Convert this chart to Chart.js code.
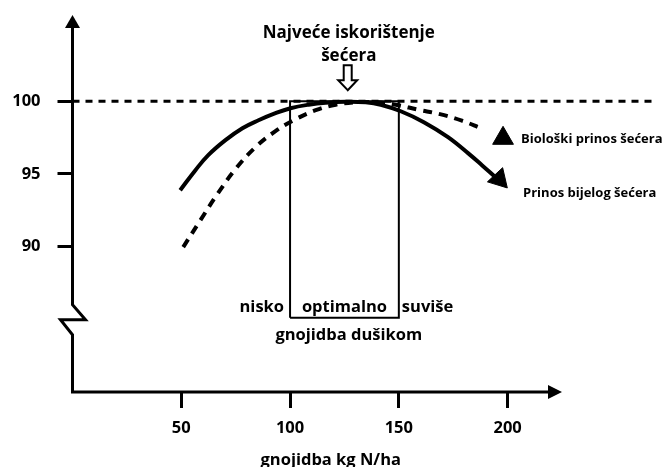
<!DOCTYPE html>
<html>
<head>
<meta charset="utf-8">
<script src="https://cdn.jsdelivr.net/npm/chart.js@4/dist/chart.umd.min.js"></script>
<style>
  html, body { margin: 0; padding: 0; background: #fff; }
  #wrap { width: 663px; height: 467px; }
</style>
</head>
<body>
<div id="wrap"><canvas id="chart" width="663" height="467"></canvas></div>
<script>
// N rate (kg N/ha) against relative sugar yield (%)
const xTicks = [50, 100, 150, 200];
const yTicks = [90, 95, 100];

// Prinos bijelog šećera (solid line, arrow at the end)
const whiteX = [49.5, 56.5, 62.4, 70.3, 78.1, 85.5, 93.3, 100.2, 108.5, 116.4, 125.6, 134.8, 141.7, 150.9, 161.5, 172.6, 181.8, 188.2, 193.8];
const whiteY = [93.88, 95.26, 96.29, 97.32, 98.14, 98.69, 99.18, 99.52, 99.76, 99.9, 99.97, 99.93, 99.76, 99.31, 98.56, 97.53, 96.43, 95.6, 94.85];
const whiteHead = [196.1, 94.64];

// Biološki prinos šećera (dashed line, triangle at the end)
const bioX = [50.9, 58.8, 66.6, 74.9, 84.1, 93.3, 102.5, 111.8, 121, 130.2, 139.4, 148.6, 158.8, 168.9, 179, 187.8];
const bioY = [89.97, 91.82, 93.61, 95.33, 96.84, 97.94, 98.76, 99.38, 99.76, 99.93, 99.93, 99.76, 99.42, 99.11, 98.66, 98.14];
const bioHead = [197.9, 97.45];

// optimal N range box and the 100 % reference line
const optimalRange = [100, 150];
const boxBottom = 85.1;
const refLevel = 100;
const refLineEnd = 267;

const FONT = '"Open Sans", Lato, sans-serif';
const toPts = (xs, ys) => xs.map((x, i) => ({ x: x, y: ys[i] }));

const boxPts = [
    { x: optimalRange[0], y: boxBottom },
    { x: optimalRange[0], y: refLevel },
    { x: optimalRange[1], y: refLevel },
    { x: optimalRange[1], y: boxBottom },
    { x: optimalRange[0], y: boxBottom }
];

// Axes with arrows, axis break and all the text labels
const decorPlugin = {
    id: 'decor',
    afterDraw(chart) {
        const { ctx, chartArea, scales: { x, y } } = chart;
        const x0 = x.getPixelForValue(0);
        const yb = chartArea.bottom;
        const top = chartArea.top;
        const right = chartArea.right;
        const brk = y.getPixelForValue(86);

        ctx.save();
        ctx.strokeStyle = '#000';
        ctx.fillStyle = '#000';
        ctx.lineWidth = 3;
        ctx.lineJoin = 'miter';

        ctx.beginPath();
        ctx.moveTo(x0, top + 10);
        ctx.lineTo(x0, brk);
        ctx.lineTo(x0 + 13, brk + 15);
        ctx.lineTo(x0 - 12, brk + 15);
        ctx.lineTo(x0, brk + 30);
        ctx.lineTo(x0, yb);
        ctx.lineTo(right - 10, yb);
        ctx.stroke();

        // arrow heads
        ctx.beginPath();
        ctx.moveTo(x0, top + 1);
        ctx.lineTo(x0 - 7.5, top + 14);
        ctx.lineTo(x0 + 7.5, top + 14);
        ctx.closePath();
        ctx.fill();
        ctx.beginPath();
        ctx.moveTo(right, yb);
        ctx.lineTo(right - 14, yb - 7);
        ctx.lineTo(right - 14, yb + 7);
        ctx.closePath();
        ctx.fill();

        const px = v => x.getPixelForValue(v);
        const py = v => y.getPixelForValue(v);

        ctx.textBaseline = 'middle';
        ctx.font = 'bold 17px ' + FONT;
        ctx.textAlign = 'center';
        ctx.fillText('Najveće iskorištenje', px(127), py(104.65));
        ctx.fillText('šećera', px(127), py(103.1));

        // hollow arrow pointing at the maximum
        const ax = px(126.5), ay = py(100.76);
        ctx.lineWidth = 2;
        ctx.beginPath();
        ctx.moveTo(ax, ay);
        ctx.lineTo(ax - 9.5, ay - 10);
        ctx.lineTo(ax - 4, ay - 10);
        ctx.lineTo(ax - 4, ay - 25);
        ctx.lineTo(ax + 4, ay - 25);
        ctx.lineTo(ax + 4, ay - 10);
        ctx.lineTo(ax + 9.5, ay - 10);
        ctx.closePath();
        ctx.fillStyle = '#fff';
        ctx.fill();
        ctx.stroke();
        ctx.fillStyle = '#000';

        ctx.font = 'bold 16.5px ' + FONT;
        ctx.textAlign = 'right';
        ctx.fillText('nisko', px(optimalRange[0]) - 6, py(85.84));
        ctx.textAlign = 'center';
        ctx.fillText('optimalno', px(125), py(85.84));
        ctx.fillText('gnojidba dušikom', px(127), py(83.9));
        ctx.textAlign = 'left';
        ctx.fillText('suviše', px(optimalRange[1]) + 3, py(85.84));

        ctx.font = 'bold 13px ' + FONT;
        ctx.fillText('Biološki prinos šećera', px(206.2), py(97.39));
        ctx.fillText('Prinos bijelog šećera', px(207.1), py(93.68));

        ctx.font = 'bold 16.5px ' + FONT;
        ctx.textAlign = 'center';
        ctx.fillText('gnojidba kg N/ha', px(118.7), py(75.3));
        ctx.restore();
    }
};

const ctx = document.getElementById('chart').getContext('2d');
const sugarChart = new Chart(ctx, {
    type: 'line',
    data: {
        datasets: [
            {
                data: toPts(whiteX, whiteY),
                borderColor: '#000',
                borderWidth: 4,
                tension: 0.4,
                pointRadius: 0
            },
            {
                data: [{ x: whiteHead[0], y: whiteHead[1] }],
                showLine: false,
                pointStyle: 'triangle',
                pointRadius: 12,
                rotation: 137,
                backgroundColor: '#000',
                borderColor: '#000',
                borderWidth: 1
            },
            {
                data: toPts(bioX, bioY),
                borderColor: '#000',
                borderWidth: 4,
                borderDash: [9, 7],
                tension: 0.4,
                pointRadius: 0
            },
            {
                data: [{ x: bioHead[0], y: bioHead[1] }],
                showLine: false,
                pointStyle: 'triangle',
                pointRadius: 12,
                backgroundColor: '#000',
                borderColor: '#000',
                borderWidth: 1
            },
            {
                data: boxPts,
                borderColor: '#000',
                borderWidth: 2,
                tension: 0,
                pointRadius: 0
            },
            {
                data: [{ x: 0, y: refLevel }, { x: refLineEnd, y: refLevel }],
                borderColor: '#000',
                borderWidth: 3,
                borderDash: [7, 6],
                pointRadius: 0,
                clip: false
            }
        ]
    },
    options: {
        responsive: false,
        animation: false,
        layout: { padding: { left: 0, top: 14, right: 101, bottom: 0 } },
        plugins: { legend: { display: false }, tooltip: { enabled: false } },
        scales: {
            x: {
                type: 'linear',
                min: 0,
                max: 225,
                afterBuildTicks: axis => { axis.ticks = xTicks.map(v => ({ value: v })); },
                afterFit: axis => {
                    axis.height = 75;
                    axis.paddingLeft = 0;
                    axis.paddingRight = 0;
                },
                border: { display: false },
                grid: { drawOnChartArea: false, drawTicks: true, tickLength: 16, tickWidth: 3, tickColor: '#000' },
                ticks: { color: '#000', padding: 10, maxRotation: 0, font: { family: FONT, size: 16.5, weight: 'bold' } }
            },
            y: {
                min: 80,
                max: 106,
                afterBuildTicks: axis => { axis.ticks = yTicks.map(v => ({ value: v })); },
                afterFit: axis => {
                    axis.width = 72.5;
                    axis.paddingTop = 0;
                    axis.paddingBottom = 0;
                },
                border: { display: false },
                grid: { drawOnChartArea: false, drawTicks: true, tickLength: 15, tickWidth: 3, tickColor: '#000' },
                ticks: { color: '#000', padding: 17, font: { family: FONT, size: 16.5, weight: 'bold' } }
            }
        }
    },
    plugins: [decorPlugin]
});
</script>
</body>
</html>
